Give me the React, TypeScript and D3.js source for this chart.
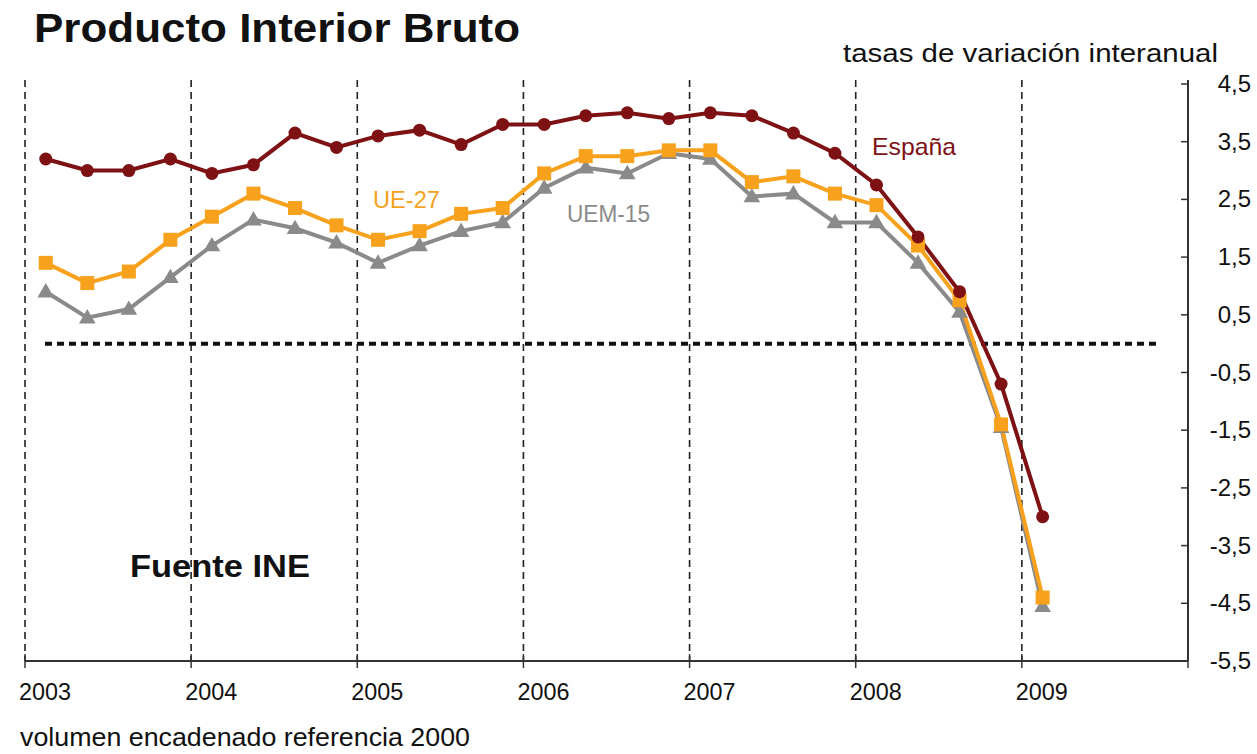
import React from 'react';
import * as d3 from 'd3';

// quarterly data, 2003 T1 .. 2009 T1
const quarters = [
  '2003T1', '2003T2', '2003T3', '2003T4',
  '2004T1', '2004T2', '2004T3', '2004T4',
  '2005T1', '2005T2', '2005T3', '2005T4',
  '2006T1', '2006T2', '2006T3', '2006T4',
  '2007T1', '2007T2', '2007T3', '2007T4',
  '2008T1', '2008T2', '2008T3', '2008T4',
  '2009T1',
];
const espana = [3.2, 3.0, 3.0, 3.2, 2.95, 3.1, 3.65, 3.4, 3.6, 3.7, 3.45, 3.8, 3.8, 3.95, 4.0, 3.9, 4.0, 3.95, 3.65, 3.3, 2.75, 1.85, 0.9, -0.7, -3.0];
const ue27 = [1.4, 1.05, 1.25, 1.8, 2.2, 2.6, 2.35, 2.05, 1.8, 1.95, 2.25, 2.35, 2.95, 3.25, 3.25, 3.35, 3.35, 2.8, 2.9, 2.6, 2.4, 1.7, 0.75, -1.4, -4.4];
const uem15 = [0.9, 0.45, 0.6, 1.15, 1.7, 2.15, 2.0, 1.75, 1.4, 1.7, 1.95, 2.1, 2.7, 3.05, 2.95, 3.3, 3.2, 2.55, 2.6, 2.1, 2.1, 1.4, 0.55, -1.45, -4.55];
const years = [2003, 2004, 2005, 2006, 2007, 2008, 2009];
const yTicks = [4.5, 3.5, 2.5, 1.5, 0.5, -0.5, -1.5, -2.5, -3.5, -4.5, -5.5];

const RED = '#7d1114';
const ORANGE = '#f8a11c';
const GRAY = '#8a8a8a';
const FONT = '"Liberation Sans", Arial, sans-serif';

const toYear = (q: string) => +q.slice(0, 4) + (+q.slice(5) - 0.5) / 4;

export default function App() {
  const x = d3.scaleLinear().domain([2003, 2010]).range([25, 1188]);
  const y = d3.scaleLinear().domain([-5.5, 4.5]).range([661, 84]);
  const line = d3.line<number>()
    .x((d, i) => x(toYear(quarters[i])))
    .y(d => y(d));
  const tri = d3.symbol().type(d3.symbolTriangle).size(120)() as string;
  const fmt = (v: number) => String(v).replace('.', ',');

  return (
    <svg width={1257} height={754} style={{ position: 'absolute', left: 0, top: 0, background: '#fff' }} fontFamily={FONT}>
      <text x={34} y={42} fontSize={41} fontWeight="bold" fill="#111" textLength={486} lengthAdjust="spacingAndGlyphs">Producto Interior Bruto</text>
      <text x={843} y={62} fontSize={26} fill="#111" textLength={375} lengthAdjust="spacingAndGlyphs">tasas de variación interanual</text>

      {/* year guides */}
      {years.map(yr => (
        <line key={yr} x1={x(yr)} x2={x(yr)} y1={80} y2={661} stroke="#222" strokeWidth={1.6} strokeDasharray="7 5" />
      ))}
      {/* zero line */}
      <line x1={45} x2={1160} y1={y(0)} y2={y(0)} stroke="#111" strokeWidth={4} strokeDasharray="7 5" />

      {/* axes */}
      <line x1={x(2003)} x2={x(2010)} y1={y(-5.5)} y2={y(-5.5)} stroke="#333" strokeWidth={2} />
      {years.concat([2010]).map(yr => (
        <line key={yr} x1={x(yr)} x2={x(yr)} y1={y(-5.5) - 7} y2={y(-5.5) + 7} stroke="#333" strokeWidth={1.5} />
      ))}
      {years.map(yr => (
        <text key={yr} x={x(yr) - 6} y={700} fontSize={23} fill="#111" textLength={52} lengthAdjust="spacingAndGlyphs">{yr}</text>
      ))}
      <line x1={x(2010)} x2={x(2010)} y1={80} y2={y(-5.5)} stroke="#333" strokeWidth={2} />
      {yTicks.map(t => (
        <g key={t}>
          <line x1={x(2010) - 7} x2={x(2010)} y1={y(t)} y2={y(t)} stroke="#333" strokeWidth={1.5} />
          <text x={1251} y={y(t) + 8} fontSize={24} fill="#111" textAnchor="end">{fmt(t)}</text>
        </g>
      ))}

      {/* series */}
      <path d={line(uem15) || ''} fill="none" stroke={GRAY} strokeWidth={4} />
      <path d={line(ue27) || ''} fill="none" stroke={ORANGE} strokeWidth={4} />
      <path d={line(espana) || ''} fill="none" stroke={RED} strokeWidth={4} />
      {uem15.map((v, i) => (
        <path key={'g' + i} d={tri} transform={`translate(${x(toYear(quarters[i]))},${y(v) + 1})`} fill={GRAY} />
      ))}
      {ue27.map((v, i) => (
        <rect key={'o' + i} x={x(toYear(quarters[i])) - 7} y={y(v) - 7} width={14} height={14} fill={ORANGE} />
      ))}
      {espana.map((v, i) => (
        <circle key={'r' + i} cx={x(toYear(quarters[i]))} cy={y(v)} r={6.5} fill={RED} />
      ))}

      <text x={872} y={155} fontSize={24} fill={RED} textLength={84} lengthAdjust="spacingAndGlyphs">España</text>
      <text x={373} y={208} fontSize={24} fill={ORANGE} textLength={67} lengthAdjust="spacingAndGlyphs">UE-27</text>
      <text x={567} y={222} fontSize={23} fill={GRAY} textLength={83} lengthAdjust="spacingAndGlyphs">UEM-15</text>
      <text x={130} y={577} fontSize={32} fontWeight="bold" fill="#111" textLength={180} lengthAdjust="spacingAndGlyphs">Fuente INE</text>
      <text x={20} y={746} fontSize={25} fill="#111" textLength={450} lengthAdjust="spacingAndGlyphs">volumen encadenado referencia 2000</text>
    </svg>
  );
}
